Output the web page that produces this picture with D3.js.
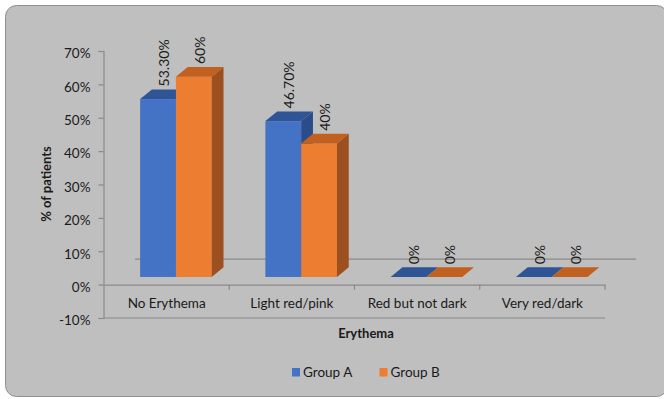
<!DOCTYPE html>
<html>
<head>
<meta charset="utf-8">
<script src="https://cdn.jsdelivr.net/npm/d3@7"></script>
<style>
  html, body { margin: 0; padding: 0; background: #ffffff; }
  svg { display: block; }
  text { font-family: Lato, "Open Sans", sans-serif; fill: #1a1a1a; }
</style>
</head>
<body>
<svg id="chart" width="664" height="399"></svg>
<script>
// Erythema distribution per group (share of patients)
const categories = ["No Erythema", "Light red/pink", "Red but not dark", "Very red/dark"];
const seriesNames = ["Group A", "Group B"];
const groupA = [0.533, 0.467, 0, 0];
const groupB = [0.60, 0.40, 0, 0];
const yTicks = [-0.1, 0, 0.1, 0.2, 0.3, 0.4, 0.5, 0.6, 0.7];

const series = [
  { name: seriesNames[0], values: groupA, front: "#4472c4", top: "#2f5597", side: "#2b4c88" },
  { name: seriesNames[1], values: groupB, front: "#ed7d31", top: "#c2601f", side: "#9c4f1f" }
];

const svg = d3.select("#chart");

// panel background
svg.append("rect")
  .attr("x", 5.5).attr("y", 5.5)
  .attr("width", 662).attr("height", 391)
  .attr("rx", 11).attr("ry", 11)
  .attr("fill", "#bfbfbf")
  .attr("stroke", "#8f8f8f").attr("stroke-width", 1);

const x = d3.scaleBand().domain(categories).range([104, 605]);
const y = d3.scaleLinear().domain([-0.1, 0.7]).range([318, 51]);

// oblique depth of the 3-D floor, and the slice the columns occupy
const depth = { dx: 31, dy: -25.5 };
const f1 = 0.3, f2 = 0.68;
const off1 = { dx: depth.dx * f1, dy: depth.dy * f1 };
const dd = { dx: depth.dx * (f2 - f1), dy: depth.dy * (f2 - f1) };
const bw = x.bandwidth() / 3.5;

const axisColor = "#8a8a8a";

// back baseline at 0%
svg.append("line")
  .attr("x1", x.range()[0] + depth.dx).attr("x2", x.range()[1] + depth.dx)
  .attr("y1", y(0) + depth.dy).attr("y2", y(0) + depth.dy)
  .attr("stroke", axisColor).attr("stroke-width", 1.2);

// value axis (plain hyphen for negatives)
const pct = d => Math.round(d * 100) + "%";
const yAxis = d3.axisLeft(y).tickValues(yTicks).tickSize(5).tickFormat(pct);
const yg = svg.append("g").attr("transform", "translate(103.5,0)").call(yAxis);
yg.select(".domain").attr("stroke", axisColor).attr("stroke-width", 1.2);
yg.selectAll(".tick line").attr("stroke", axisColor).attr("stroke-width", 1.2);
yg.selectAll(".tick text")
  .attr("x", -13).attr("dy", "0.5em")
  .style("font-size", "13.5px").style("font-family", "Lato, sans-serif").attr("fill", "#1a1a1a");

// front edge at the axis minimum
svg.append("line")
  .attr("x1", 103.5).attr("x2", x.range()[1])
  .attr("y1", y(-0.1)).attr("y2", y(-0.1))
  .attr("stroke", axisColor).attr("stroke-width", 1.2);

// category axis at 0%
const xAxis = d3.axisBottom(x).tickSize(5).tickSizeOuter(0);
const xg = svg.append("g").attr("transform", `translate(0,${y(0)})`).call(xAxis);
xg.select(".domain").attr("stroke", axisColor).attr("stroke-width", 1.2);
xg.selectAll(".tick line")
  .attr("transform", `translate(${x.bandwidth() / 2},0)`)
  .attr("stroke", axisColor).attr("stroke-width", 1.2);
xg.selectAll(".tick text")
  .attr("y", 14).attr("dy", "0.71em")
  .style("font-size", "13.5px").style("font-family", "Lato, sans-serif").attr("fill", "#1a1a1a");

// columns
const fmt = v => {
  const p = Math.round(v * 1000) / 10;
  return Number.isInteger(p) ? p + "%" : p.toFixed(2) + "%";
};
const poly = pts => pts.map(p => p.join(",")).join(" ");

categories.forEach((cat, i) => {
  series.forEach((s, j) => {
    const v = s.values[i];
    const x0 = x(cat) + x.bandwidth() / 2 - bw + j * bw + off1.dx;
    const yt = y(v) + off1.dy;
    const yb = y(0) + off1.dy;
    const g = svg.append("g");
    if (yb - yt > 0.5) {
      g.append("rect").attr("x", x0).attr("y", yt).attr("width", bw).attr("height", yb - yt)
        .attr("fill", s.front);
      g.append("polygon").attr("points", poly([
        [x0 + bw, yt], [x0 + bw + dd.dx, yt + dd.dy], [x0 + bw + dd.dx, yb + dd.dy], [x0 + bw, yb]
      ])).attr("fill", s.side);
    }
    g.append("polygon").attr("points", poly([
      [x0, yt], [x0 + bw, yt], [x0 + bw + dd.dx, yt + dd.dy], [x0 + dd.dx, yt + dd.dy]
    ])).attr("fill", s.top);
  });
});

// value labels above each column
categories.forEach((cat, i) => {
  series.forEach((s, j) => {
    const v = s.values[i];
    const x0 = x(cat) + x.bandwidth() / 2 - bw + j * bw + off1.dx;
    const lx = x0 + bw / 2 + dd.dx / 2;
    const ly = y(v) + off1.dy + dd.dy - 3;
    svg.append("text")
      .attr("transform", `translate(${lx},${ly}) rotate(-90)`)
      .attr("dy", "0.36em")
      .attr("text-anchor", "start")
      .style("font-size", "14px")
      .text(fmt(v));
  });
});

// axis titles
svg.append("text")
  .attr("transform", "translate(46,184) rotate(-90)")
  .attr("dy", "0.36em")
  .attr("text-anchor", "middle")
  .style("font-size", "13px").style("font-weight", "bold")
  .text("% of patients");

svg.append("text")
  .attr("x", 366).attr("y", 338)
  .attr("text-anchor", "middle")
  .style("font-size", "13px").style("font-weight", "bold")
  .text("Erythema");

// legend
const legend = svg.append("g").attr("transform", "translate(292,368)");
const lx = [0, 87.5];
series.forEach((s, j) => {
  const item = legend.append("g").attr("transform", `translate(${lx[j]},0)`);
  item.append("rect").attr("width", 8).attr("height", 8.5).attr("fill", s.front);
  item.append("text").attr("x", 11).attr("y", 9)
    .style("font-size", "13.5px").text(s.name);
});
</script>
</body>
</html>
